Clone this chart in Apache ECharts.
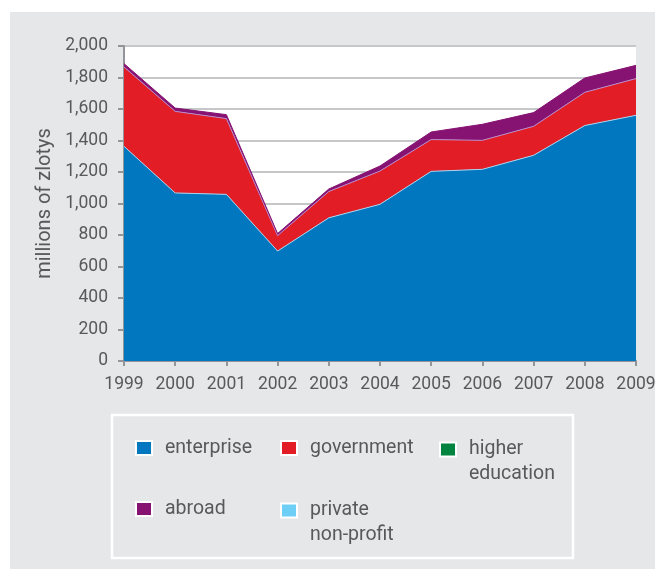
<!DOCTYPE html>
<html>
<head>
<meta charset="utf-8">
<script src="https://cdn.jsdelivr.net/npm/echarts@6/dist/echarts.min.js"></script>
<style>
  html, body { margin: 0; padding: 0; background: #ffffff; }
  #panel { position: absolute; left: 10px; top: 12px; width: 645px; height: 557px; background: #e6e7e8; }
  #chart { position: absolute; left: 0; top: 0; width: 655px; height: 569px; }
</style>
</head>
<body>
<div id="panel"></div>
<div id="chart"></div>
<script>
// R&D expenditure by source of funds, millions of zlotys
const years = ['1999', '2000', '2001', '2002', '2003', '2004', '2005', '2006', '2007', '2008', '2009'];
const enterprise       = [1363, 1067, 1058, 698, 909, 995, 1204, 1217, 1306, 1495, 1560];
const government       = [504, 518, 481, 98, 167, 211, 202, 184, 184, 211, 233];
const higherEducation  = [0, 0, 0, 0, 0, 0, 0, 0, 0, 0, 0];
const abroad           = [21, 21, 25, 13, 16, 32, 48, 102, 87, 91, 84];
const privateNonProfit = [0, 0, 0, 0, 0, 0, 0, 0, 0, 0, 0];
const yTicks = { min: 0, max: 2000, interval: 200 };

const FONT = "Roboto, 'Liberation Sans', sans-serif";
const TEXT = '#58595b';

const seriesDefs = [
  { name: 'enterprise',         data: enterprise,       color: '#0077bf', line: '#a7d3ef', width: 1 },
  { name: 'government',         data: government,       color: '#e31d25', line: '#b98ccc', width: 1 },
  { name: 'higher education',   data: higherEducation,  color: '#00843f', line: '#00843f', width: 0 },
  { name: 'abroad',             data: abroad,           color: '#861272', line: '#861272', width: 1 },
  { name: 'private non-profit', data: privateNonProfit, color: '#6dcff6', line: '#6dcff6', width: 0 }
];

function legendAt(name, left, top, multiline) {
  const lh = multiline ? 25 : 16;
  return {
    data: [name],
    left: left, top: top,
    padding: 0,
    itemWidth: 16, itemHeight: 14,
    icon: 'rect',
    itemStyle: { borderColor: '#ffffff', borderWidth: 2 },
    formatter: function (n) {
      const parts = n.split(' ');
      return multiline ? '\n' + parts[0] + '\n' + parts.slice(1).join(' ') : n;
    },
    textStyle: { color: TEXT, fontFamily: FONT, fontSize: 19.5, lineHeight: lh, padding: [0, 0, 0, 8] },
    selectedMode: true
  };
}

const chart = echarts.init(document.getElementById('chart'), null, { renderer: 'canvas' });
chart.setOption({
  backgroundColor: 'transparent',
  animation: false,
  textStyle: { fontFamily: FONT },
  grid: {
    left: 124, top: 46, width: 512, height: 315,
    outerBoundsMode: 'none',
    containLabel: false,
    show: true, backgroundColor: '#ffffff', borderWidth: 0
  },
  xAxis: {
    type: 'category',
    data: years,
    boundaryGap: false,
    axisLine: { lineStyle: { color: '#939598', width: 2 } },
    axisTick: { show: true, length: 5, alignWithLabel: true, lineStyle: { color: '#939598', width: 2 } },
    axisLabel: { color: TEXT, fontFamily: FONT, fontSize: 17.5, margin: 15, interval: 0, hideOverlap: false },
    splitLine: { show: false }
  },
  yAxis: {
    type: 'value',
    min: yTicks.min, max: yTicks.max, interval: yTicks.interval,
    name: 'millions of zlotys',
    nameLocation: 'middle',
    nameRotate: 90,
    nameGap: 69,
    nameMoveOverlap: false,
    nameTextStyle: { color: TEXT, fontFamily: FONT, fontSize: 20 },
    axisLine: { show: true, lineStyle: { color: '#939598', width: 2 } },
    axisTick: { show: true, length: 6, lineStyle: { color: '#939598', width: 2 } },
    axisLabel: {
      color: TEXT, fontFamily: FONT, fontSize: 17.5, margin: 16,
      formatter: function (v) { return v.toLocaleString('en-US'); }
    },
    splitLine: { show: true, lineStyle: { color: '#c6c7c8', width: 2 } }
  },
  legend: [
    legendAt('enterprise', 135, 438, false),
    legendAt('government', 280, 438, false),
    legendAt('higher education', 439, 412, true),
    legendAt('abroad', 135, 499, false),
    legendAt('private non-profit', 280, 473, true)
  ],
  graphic: [{
    type: 'rect',
    silent: true,
    shape: { x: 112, y: 415, width: 461, height: 143 },
    style: { fill: 'transparent', stroke: '#ffffff', lineWidth: 2.5 }
  }],
  series: seriesDefs.map(function (s) {
    return {
      name: s.name,
      type: 'line',
      stack: 'total',
      data: s.data,
      symbol: 'none',
      smooth: false,
      itemStyle: { color: s.color },
      lineStyle: { color: s.line, width: s.width },
      areaStyle: { color: s.color, opacity: 1 },
      emphasis: { disabled: true }
    };
  })
});
</script>
</body>
</html>
